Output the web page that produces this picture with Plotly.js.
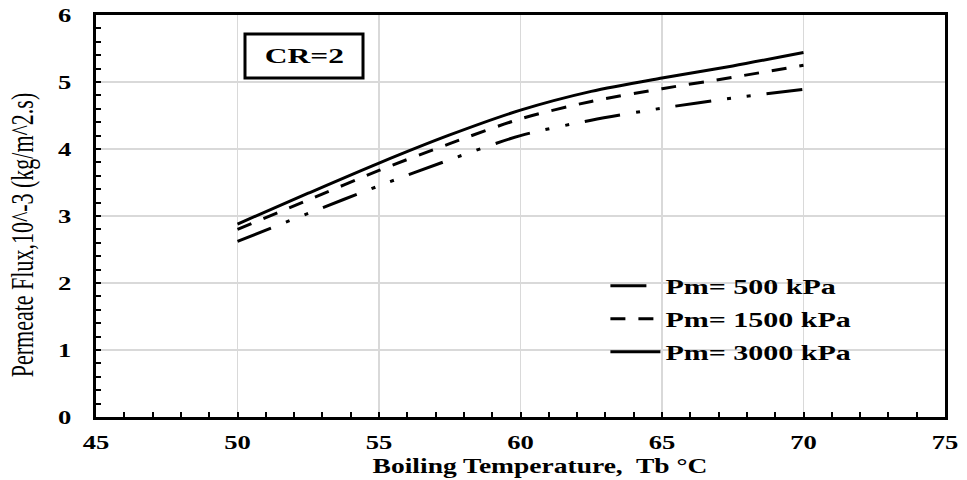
<!DOCTYPE html>
<html>
<head>
<meta charset="utf-8">
<script src="https://cdn.plot.ly/plotly-3.0.1.min.js"></script>
<style>html,body{margin:0;padding:0;background:#fff;}#chart{width:967px;height:480px;}</style>
</head>
<body>
<div id="chart"></div>
<script>
var temperature = [50, 52.5, 55, 57.5, 60, 62.5, 65, 67.5, 70];
var flux500  = [2.62, 3.04, 3.45, 3.84, 4.20, 4.43, 4.61, 4.76, 4.89];
var flux1500 = [2.80, 3.24, 3.68, 4.08, 4.45, 4.71, 4.90, 5.07, 5.25];
var flux3000 = [2.88, 3.34, 3.79, 4.21, 4.58, 4.86, 5.06, 5.24, 5.44];
var seriesNames = ['Pm= 500 kPa', 'Pm= 1500 kPa', 'Pm= 3000 kPa'];
var xTicks = [45, 50, 55, 60, 65, 70, 75];
var yTicks = [0, 1, 2, 3, 4, 5, 6];

var serif = 'Liberation Serif, Times New Roman, serif';
function tr(y, name, dash, g) {
  return {x: temperature, y: y, name: name, legendgroup: g, mode: 'lines', type: 'scatter',
    line: {color: '#000', width: 3, dash: dash, shape: 'spline', smoothing: 0.8}};
}
var data = [
  tr(flux500, seriesNames[0], '36px,16px,4px,16px,4px,16px', 'a'),
  tr(flux1500, seriesNames[1], '15px,13px', 'b'),
  tr(flux3000, seriesNames[2], 'solid', 'c')
];
var layout = {
  width: 967, height: 480,
  margin: {l: 96, r: 22, t: 15, b: 63},
  paper_bgcolor: '#fff', plot_bgcolor: '#fff',
  showlegend: true,
  legend: {x: 0.6, y: 0.375, xanchor: 'left', yanchor: 'top', bgcolor: 'rgba(0,0,0,0)',
    itemwidth: 50,
    font: {family: serif, size: 20, color: '#000', weight: 'bold'}, tracegroupgap: 4},
  xaxis: {range: [45, 75], tickvals: xTicks, ticktext: xTicks.map(String),
    showgrid: true, gridcolor: '#d9d9d9', gridwidth: 1.5,
    showline: true, linecolor: '#000', linewidth: 3, mirror: true,
    ticks: 'inside', ticklen: 5, tickwidth: 2, tickcolor: '#000',
    minor: {dtick: 1, ticks: 'inside', ticklen: 5, tickwidth: 2, tickcolor: '#000', showgrid: false},
    zeroline: false, ticklabelstandoff: 6,
    tickfont: {family: serif, size: 19, color: '#000', weight: 'bold'},
    title: {text: 'Boiling Temperature,  Tb °C', standoff: 2,
      font: {family: serif, size: 21, color: '#000', weight: 'bold'}}},
  yaxis: {range: [0, 6], tickvals: yTicks, ticktext: yTicks.map(String),
    showgrid: true, gridcolor: '#d9d9d9', gridwidth: 1.5,
    showline: true, linecolor: '#000', linewidth: 3, mirror: true,
    ticks: 'inside', ticklen: 5, tickwidth: 2, tickcolor: '#000',
    minor: {dtick: 0.2, ticks: 'inside', ticklen: 5, tickwidth: 2, tickcolor: '#000', showgrid: false},
    zeroline: false, ticklabelstandoff: 18,
    tickfont: {family: serif, size: 19, color: '#000', weight: 'bold'},
    title: {text: 'Permeate Flux,10^-3 (kg/m^2.s)', standoff: 18,
      font: {family: serif, size: 22, color: '#000'}}},
  shapes: [{type: 'rect', xref: 'paper', yref: 'paper', x0: 0.1755, x1: 0.3145, y0: 0.843, y1: 0.953,
    line: {color: '#000', width: 3}, fillcolor: '#fff', layer: 'above'}],
  annotations: [{xref: 'paper', yref: 'paper', x: 0.245, y: 0.898, xanchor: 'center', yanchor: 'middle',
    text: '<b>CR=2</b>', showarrow: false, font: {family: serif, size: 21, color: '#000'}}]
};
function stretch(sel, f) {
  document.querySelectorAll(sel).forEach(function (t) {
    var w = t.getComputedTextLength();
    t.setAttribute('textLength', (w * f).toFixed(1));
    t.setAttribute('lengthAdjust', 'spacingAndGlyphs');
  });
}
function place(sel, cx, cy, sx) {
  var g = document.querySelector(sel);
  if (!g) return;
  var b = g.getBBox();
  var ox = b.x + b.width / 2, oy = b.y + b.height / 2;
  g.setAttribute('transform', 'translate(' + cx + ',' + cy + ') scale(' + sx + ',1) translate(' + (-ox) + ',' + (-oy) + ')');
}
Plotly.newPlot('chart', data, layout, {displayModeBar: false, staticPlot: true}).then(function () {
  stretch('.xtick text', 1.4);
  stretch('.ytick text', 1.4);
  stretch('.legendtext', 1.5);
  stretch('.annotation-text', 1.5);
  document.querySelectorAll('.legend [clip-path]').forEach(function (n) { n.removeAttribute('clip-path'); });
  place('.g-xtitle', 540, 466, 1.31);
  place('.g-ytitle', 23, 235, 1.4);
});
</script>
</body>
</html>
